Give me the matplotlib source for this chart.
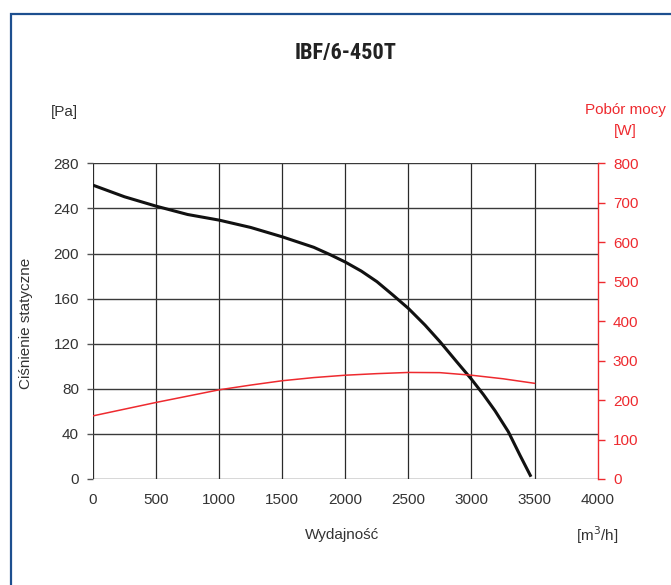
import matplotlib
matplotlib.use("Agg")
import matplotlib.pyplot as plt
from matplotlib.patches import Rectangle

plt.rcParams['font.family'] = ['Liberation Sans', 'DejaVu Sans']

# Data
flow_p = [0, 250, 500, 750, 1000, 1250, 1500, 1750, 1879, 2000, 2127, 2251, 2378, 2500,
          2632, 2751, 2883, 3000, 3094, 3187, 3292, 3385, 3472]
pressure = [260.6, 250.3, 242, 234.6, 229.6, 223.1, 214.8, 205.5, 199, 192.4, 184.4, 175, 163.1, 151.3,
            136.5, 121.7, 104, 88.5, 75, 60.5, 42, 21, 2]
flow_w = [0, 250, 500, 750, 1000, 1250, 1500, 1750, 2000, 2250, 2500, 2750, 3000, 3250, 3500]
power = [160, 177, 194, 210, 226, 238, 249, 257, 263, 267, 270, 269.5, 263, 254, 242.5]

x_ticks = [0, 500, 1000, 1500, 2000, 2500, 3000, 3500, 4000]
y_ticks = [0, 40, 80, 120, 160, 200, 240, 280]
w_ticks = [0, 100, 200, 300, 400, 500, 600, 700, 800]

title = "IBF/6-450T"
red = '#ee2a2f'
txt = '#333333'
fs = 11

fig = plt.figure(figsize=(6.71, 5.85), dpi=100)
ax = fig.add_axes([93/671, 1-479/585, (597.6-93)/671, (479-163.3)/585])

# frame border
fig.patches.append(Rectangle((10.7/671, -0.05), 1.1, 1-14/585+0.05, transform=fig.transFigure,
                             fill=False, edgecolor='#1d4f8f', linewidth=1.6, zorder=0))

ax.set_xlim(0, 4000)
ax.set_ylim(0, 280)
ax.set_xticks(x_ticks)
ax.set_yticks(y_ticks)
ax.tick_params(axis='x', length=0, pad=10, labelsize=fs, labelcolor=txt)
ax.tick_params(axis='y', length=4, width=1, color='#555555', labelsize=fs, labelcolor=txt, pad=6)

for x in x_ticks[:-1]:
    ax.axvline(x, color='#2a2a2a', linewidth=0.9, zorder=1)
for y in y_ticks:
    ax.axhline(y, color='#3a3a3a', linewidth=1.0, zorder=1)

for s in ['top', 'left', 'bottom', 'right']:
    ax.spines[s].set_visible(False)

ax.plot(flow_p, pressure, color='#111111', linewidth=2.2, zorder=4,
        solid_capstyle='butt', solid_joinstyle='round')

ax2 = ax.twinx()
ax2.set_ylim(0, 800)
ax2.set_yticks(w_ticks)
ax2.tick_params(axis='y', length=5, width=1, color=red, labelcolor=red, labelsize=fs, pad=6)
for s in ['top', 'left', 'bottom']:
    ax2.spines[s].set_visible(False)
ax2.spines['right'].set_color(red)
ax2.spines['right'].set_linewidth(1.0)
ax2.plot(flow_w, power, color=red, linewidth=1.1, zorder=3, solid_joinstyle='round')

fig.text(346/671, 1-53/585, title, ha='center', va='center', fontsize=16, fontweight='bold',
         fontstretch='condensed',
         family=['Liberation Sans Narrow', 'Roboto Condensed', 'DejaVu Sans'], color='#222222')
fig.text(64/671, 1-112/585, "[Pa]", ha='center', va='center', fontsize=fs, color=txt)
fig.text(625/671, 1-110/585, "Pobór mocy", ha='center', va='center', fontsize=fs, color=red)
fig.text(625/671, 1-131/585, "[W]", ha='center', va='center', fontsize=fs, color=red)
fig.text(26/671, 1-323/585, "Ciśnienie statyczne", ha='center', va='center', rotation=90,
         fontsize=fs, color=txt)
fig.text(342/671, 1-535/585, "Wydajność", ha='center', va='center', fontsize=fs, color=txt)
fig.text(597/671, 1-535/585, r"[m$^3$/h]", ha='center', va='center', fontsize=fs, color=txt)

fig.savefig("out.png", dpi=100, facecolor='white')
